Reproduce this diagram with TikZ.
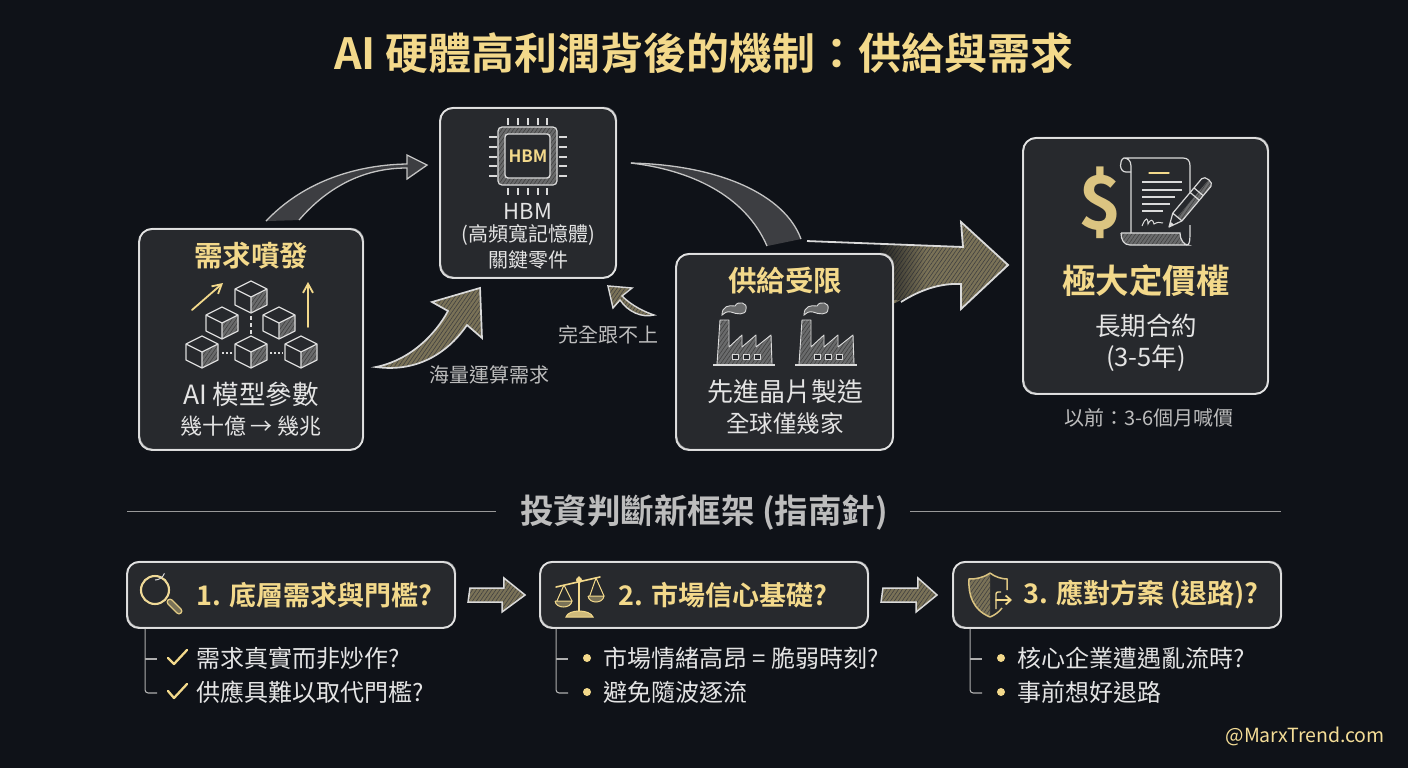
\documentclass[tikz,border=0pt]{standalone}
\usepackage{fontspec}
\setmainfont{Noto Sans CJK TC}[BoldFont={Noto Sans CJK TC Bold}]
\usetikzlibrary{calc,patterns.meta,arrows.meta,fadings}
\definecolor{bgc}{HTML}{0F1218}
\definecolor{panelc}{HTML}{27292D}
\definecolor{linec}{HTML}{DADADA}
\definecolor{goldc}{HTML}{F3D98B}
\definecolor{tanc}{HTML}{7A7257}
\definecolor{greyt}{HTML}{E4E4E4}
\definecolor{dimt}{HTML}{BDBDBD}
\definecolor{hatchg}{HTML}{6A6B6C}
\newcommand{\fsz}[1]{\fontsize{#1}{#1}\selectfont}
\tikzset{
 x=1pt,y=-1pt,
 panel/.style={draw=linec,line width=1.9pt,fill=panelc,rounded corners=13pt,inner sep=0pt,
   postaction={draw=white,draw opacity=.5,line width=.6pt,transform canvas={shift={(.9pt,.9pt)}}}},
 txt/.style={inner sep=0pt,text=greyt,font=\fsz{#1}},
 gold/.style={inner sep=0pt,text=goldc,font=\fsz{#1}\bfseries},
 dim/.style={inner sep=0pt,text=dimt,font=\fsz{#1}},
 item/.style={inner sep=0pt,anchor=west,text=greyt,font=\fsz{24}},
 icon/.style={draw=linec,line width=1.2pt,line join=round},
 hatched/.style={preaction={fill=#1},pattern={Lines[angle=55,distance=3.2pt,line width=.6pt]},pattern color=black!75},
 blockarrow/.style={draw=linec,line width=1.7pt,line join=miter,hatched=tanc},
 curvearrow/.style={draw=linec!90!black,line width=1.3pt,fill=panelc!90!white},
 tree/.style={draw=linec!80!black,line width=1.1pt},
 goldline/.style={draw=goldc,line width=1.5pt,line cap=round,line join=round},
}
\newcommand{\cube}[2]{%
 \begin{scope}[shift={(#1,#2)}]
  \fill[panelc] (0,-16)--(16,-8)--(16,8)--(0,16)--(-16,8)--(-16,-8)--cycle;
  \path[hatched=hatchg] (0,0)--(16,-8)--(16,8)--(0,16)--cycle;
  \draw[icon] (0,-16)--(16,-8)--(16,8)--(0,16)--(-16,8)--(-16,-8)--cycle (-16,-8)--(0,0)--(16,-8) (0,0)--(0,16);
 \end{scope}}
\newcommand{\factory}[1]{%
 \begin{scope}[shift={(#1,0)}]
  \path[hatched=hatchg] (4,364)--(7,320)--(16,320)--(16,347)--(29,335)--(29,347)--(43,335)--(43,347)--(58,335)--(59,364)--cycle;
  \draw[icon,line width=.9pt] (4,364)--(7,320)--(16,320)--(16,347)--(29,335)--(29,347)--(43,335)--(43,347)--(58,335)--(59,364);
  \draw[icon,line width=1.6pt] (0,365)--(62,365);
  \foreach \wx in {19,30,41}{\draw[icon,line width=.8pt,fill=panelc] (\wx,354) rectangle ++(6,5);}
  \path[draw=linec,line width=.9pt,fill=hatchg] (9,315) .. controls (9,306) and (16,305) .. (22,306) .. controls (25,300) and (35,303) .. (33,309) .. controls (33,316) and (23,314) .. (18,312) .. controls (14,311) and (11,313) .. (9,315)--cycle;
 \end{scope}}
\begin{document}
\begin{tikzpicture}
\useasboundingbox (0,0) rectangle (1408,768);
\fill[bgc] (0,0) rectangle (1408,768);

% title
\node[gold=43] (title) at (704,53) {AI 硬體高利潤背後的機制：供給與需求};

% panels
\node[panel,minimum width=224pt,minimum height=221pt] (demand) at (251,339.5) {};
\node[panel,minimum width=176pt,minimum height=170pt] (hbm) at (528,193) {};
\node[panel,minimum width=245pt,minimum height=256pt] (right) at (1145.5,266) {};

% big arrow (behind the supply panel)
\path[hatched=tanc] (880,244)--(963,247)--(961,222)--(1009,265)--(961,309)--(961,284) .. controls (940,283) and (915,292) .. (895,303)--(880,303)--cycle;
\fill[bgc,path fading=east] (870,240) rectangle (925,300);
\node[panel,minimum width=217pt,minimum height=196pt] (supply) at (784.5,352) {};
\draw[linec,line width=1.8pt,line join=miter] ($(supply.north)+(22.5,-12)$)--(963,247)--(961,222)--($(right.west)+(-14,-1)$)--(961,309)--(961,284) .. controls (940,283) and (920,290) .. (901,302);

% curved arrows
\path[curvearrow] ($(demand.north west)+(128,-7)$) .. controls (300,185) and (350,165) .. (407,164)--(407,155)--($(hbm.north west)+(-12,58)$)--(407,179)--(407,168) .. controls (360,168) and (325,190) .. ($(demand.north west)+(161,-8)$);
\path[blockarrow] ($(demand.east)+(12,27.5)$) .. controls (410,360) and (435,335) .. (448,311)--(432,302)--($(hbm.south west)+(41,9)$)--(482,338)--(467,325) .. controls (450,350) and (420,373) .. cycle;
\path[blockarrow,line width=1.4pt] ($(supply.west)+(-21,-37)$) .. controls (645,312) and (632,306) .. (622,296)--(632,288)--($(hbm.south east)+(-9,7)$)--(613,308)--(620,300) .. controls (628,312) and (642,318) .. cycle;
\path[fill=panelc!90!white] ($(hbm.north east)+(14,56)$) .. controls (720,165) and (785,195) .. ($(supply.north)+(16.5,-14)$)--($(supply.north)+(-17.5,-7)$) .. controls (745,195) and (690,170) .. cycle;
\draw[draw=linec!90!black,line width=1.3pt] ($(hbm.north east)+(14,56)$) .. controls (720,165) and (785,195) .. ($(supply.north)+(16.5,-14)$);
\draw[draw=linec!90!black,line width=1.3pt] ($(supply.north)+(-17.5,-7)$) .. controls (745,195) and (690,170) .. ($(hbm.north east)+(14,56)$);

% demand panel
\node[gold=28.5] (demandt) at (251,256) {需求噴發};
\draw[tree,line width=1.4pt,dash pattern=on 4pt off 3pt,draw=linec] (251,316)--(251,336);
\draw[tree,line width=1.4pt,dash pattern=on 2pt off 2pt,draw=linec] (222,353)--(233,353) (270,353)--(283,353);
\cube{251}{297}\cube{222}{323}\cube{279}{323}\cube{202}{352}\cube{251}{352}\cube{301}{352}
\draw[goldline,line width=1.8pt,-{Straight Barb[length=9pt,width=10pt]}] (192,310)--(223,283);
\draw[goldline,line width=1.8pt,-{Straight Barb[length=9pt,width=10pt]}] (308,327)--(308,282);
\node[txt=26.5] (demandm) at (251,394) {AI 模型參數};
\node[txt=22] (demandb) at (251,426) {幾十億 → 幾兆};

% hbm panel
\foreach \v in {508,518,528,538,547}{\draw[icon,line width=1.6pt] (\v,118)--(\v,125) (\v,188)--(\v,195);}
\foreach \v in {137,147,157,166,176}{\draw[icon,line width=1.6pt] (489,\v)--(497,\v) (559,\v)--(567,\v);}
\path[hatched=hatchg,draw=linec,line width=1.2pt,rounded corners=4pt] (498,127) rectangle (557,185);
\draw[draw=linec,line width=1.4pt,fill=panelc,rounded corners=3pt] (505,134) rectangle (550,178);
\node[gold=17] (hbmchip) at (528,156) {HBM};
\node[txt=22] (hbma) at (528,211) {HBM};
\node[txt=20] (hbmb) at (528,235) {(高頻寬記憶體)};
\node[txt=20] (hbmc) at (528,260) {關鍵零件};

% arrow labels
\node[dim=20] (lab1) at (489,375) {海量運算需求};
\node[dim=20] (lab2) at (608,335) {完全跟不上};

% supply panel
\node[gold=28.5] (supplyt) at (785,281) {供給受限};
\factory{713}\factory{795}
\node[txt=26] (supplym) at (785,392) {先進晶片製造};
\node[txt=23.5] (supplyb) at (785,424) {全球僅幾家};

% right panel
\node[inner sep=0pt,text=goldc!80!tanc,font=\fsz{74}\bfseries] (dollar) at (1100,203) {\$};
\path[hatched=hatchg,draw=linec,line width=1.2pt] (1121,233)--(1180,233) .. controls (1180,240) and (1184,245) .. (1188,245)--(1130,245) .. controls (1124,245) and (1121,240) .. (1121,233);
\draw[icon] (1131,233)--(1131,166) .. controls (1131,160) and (1127,158) .. (1124,158)--(1183,158) .. controls (1188,158) and (1190,161) .. (1190,166)--(1190,200);
\draw[icon] (1124,158) .. controls (1119,160) and (1119,172) .. (1126,172)--(1131,172);
\draw[icon] (1186,245) .. controls (1190,245) and (1190,243) .. (1190,225);
\draw[goldline,line width=1.3pt] (1149,173)--(1169,173);
\draw[draw=linec,line width=1.1pt] (1142,182)--(1182,182) (1142,190)--(1182,190) (1142,197)--(1175,197) (1142,204)--(1170,204) (1142,211)--(1163,211);
\draw[draw=linec,line width=1pt] (1142,226) .. controls (1146,216) and (1148,218) .. (1148,224) .. controls (1151,218) and (1153,220) .. (1154,224) .. controls (1157,222) and (1160,222) .. (1163,223);
\begin{scope}[shift={(1169,227)},rotate=50]
 \path[fill=panelc] (0,0)--(13,-6)--(58,-6)--(62,0)--(58,6)--(13,6)--cycle;
 \path[hatched=hatchg] (13,0)--(13,6)--(58,6)--(62,0)--cycle;
 \draw[icon] (0,0)--(13,-6)--(58,-6) .. controls (63,-6) and (63,6) .. (58,6)--(13,6)--cycle (13,-6)--(13,6) (40,-6)--(40,6) (46,-6)--(46,6);
 \fill[linec] (0,0)--(5,-2)--(5,2)--cycle;
\end{scope}
\node[gold=33.5] (rightt) at (1146,281) {極大定價權};
\node[txt=25.5] (rightm) at (1146,326) {長期合約};
\node[txt=25.5] (rightb) at (1146,358) {(3-5年)};
\node[dim=20] (rightn) at (1149,418) {以前：3-6個月喊價};

% divider
\node[inner sep=0pt,text=dimt,font=\fsz{33.5}\bfseries] (sect) at (704,512) {投資判斷新框架 (指南針)};
\coordinate (dl) at (127,511); \coordinate (dr) at (1281,511);
\draw[draw=linec!70!black,line width=1pt] (dl)--($(sect.west)+(-24,-1)$) ($(sect.east)+(22,-1)$)--(dr);

% bottom boxes
\node[panel,rounded corners=12pt,minimum width=328pt,minimum height=66pt] (b1) at (291,595) {};
\node[panel,rounded corners=12pt,minimum width=328pt,minimum height=66pt] (b2) at (704,595) {};
\node[panel,rounded corners=12pt,minimum width=328pt,minimum height=66pt] (b3) at (1117,595) {};
\node[gold=27,anchor=west] (b1t) at (196,595) {1. 底層需求與門檻?};
\node[gold=27,anchor=west] (b2t) at (618,595) {2. 市場信心基礎?};
\node[gold=27,anchor=west] (b3t) at (1023,595) {3. 應對方案 (退路)?};

% block arrows between boxes
\path[blockarrow,line width=1.5pt] ($(b1.east)+(14,-7)$)--++(34,0)--++(0,-10)--($(b2.west)+(-14,0)$)--++(-23,17)--++(0,-10)--++(-34,0)--cycle;
\path[blockarrow,line width=1.5pt] ($(b2.east)+(14,-7)$)--++(35,0)--++(0,-10)--($(b3.west)+(-15,0)$)--++(-21,17)--++(0,-10)--++(-35,0)--cycle;

% magnifier
\draw[goldc!85!tanc,line width=7pt,line cap=round] (170,602)--(179,611);
\draw[tanc,line width=4pt,line cap=round] (170,602)--(179,611);
\draw[goldc!85!linec,line width=2.1pt] (155,590) circle (14);
\draw[linec,line width=1pt] (155,580) arc[start angle=90,end angle=20,radius=10];
% scales
\begin{scope}
 \draw[goldline,line width=1.6pt] (579,577)--(579,613) (556,587)--(600,577);
 \fill[goldc] (579,580) circle (3);
 \draw[goldline,line width=1pt] (564,585)--(556,603) (564,585)--(572,601) (596,578)--(589,598) (596,578)--(604,596);
 \path[fill=tanc,draw=goldc,line width=1pt] (555,601)--(572,601) .. controls (571,609) and (556,609) .. (555,601);
 \path[fill=tanc,draw=goldc,line width=1pt] (588,596)--(604,596) .. controls (603,604) and (589,604) .. (588,596);
 \path[fill=goldc!70!tanc,draw=goldc,line width=1pt] (566,617) .. controls (568,609) and (590,609) .. (593,617)--cycle;
\end{scope}
% shield and exit
\path[hatched=tanc] (990,573) .. controls (983,578) and (976,579) .. (969,579) .. controls (968,595) and (973,610) .. (990,617)--cycle;
\draw[draw=goldc!80!tanc,line width=1.5pt] (990,573) .. controls (983,578) and (976,579) .. (969,579) .. controls (968,595) and (973,610) .. (990,617);
\draw[draw=goldc!80!tanc,line width=1.5pt] (990,573) .. controls (995,577) and (1002,579) .. (1007,579)--(1007,590) (990,617) .. controls (995,615) and (999,612) .. (1002,608);
\draw[goldc!90!linec,line width=1.4pt,rounded corners=2pt] (1001,592)--(996,592)--(996,609);
\draw[goldline,line width=1.8pt,-{Straight Barb[length=5pt,width=9pt]}] (996,600)--(1012,600);

% trees and items
\draw[tree,rounded corners=3pt] ($(b1.south west)+(19,0)$)--++(0,64)--++(12,0);
\draw[tree] ($(b1.south west)+(19,30)$)--++(12,0);
\draw[goldline,line width=2.3pt] (168,658)--(174,664)--(187,650);
\draw[goldline,line width=2.3pt] (168,691)--(174,698)--(187,684);
\node[item] (i11) at (196,658) {需求真實而非炒作?};
\node[item] (i12) at (196,692) {供應具難以取代門檻?};

\draw[tree,rounded corners=3pt] ($(b2.south west)+(17,0)$)--++(0,64)--++(12,0);
\draw[tree] ($(b2.south west)+(17,30)$)--++(12,0);
\fill[goldc] (587,658) circle (4) (587,692) circle (4);
\node[item] (i21) at (603,658) {市場情緒高昂 = 脆弱時刻?};
\node[item] (i22) at (603,692) {避免隨波逐流};

\draw[tree,rounded corners=3pt] ($(b3.south west)+(18,0)$)--++(0,64)--++(12,0);
\draw[tree] ($(b3.south west)+(18,30)$)--++(12,0);
\fill[goldc] (1001,658) circle (4) (1001,692) circle (4);
\node[item] (i31) at (1017,658) {核心企業遭遇亂流時?};
\node[item] (i32) at (1017,692) {事前想好退路};

% watermark
\node[inner sep=0pt,anchor=east,text=goldc!90!white,font=\fsz{19.5}] (mark) at (1385,736) {@MarxTrend.com};
\end{tikzpicture}
\end{document}
